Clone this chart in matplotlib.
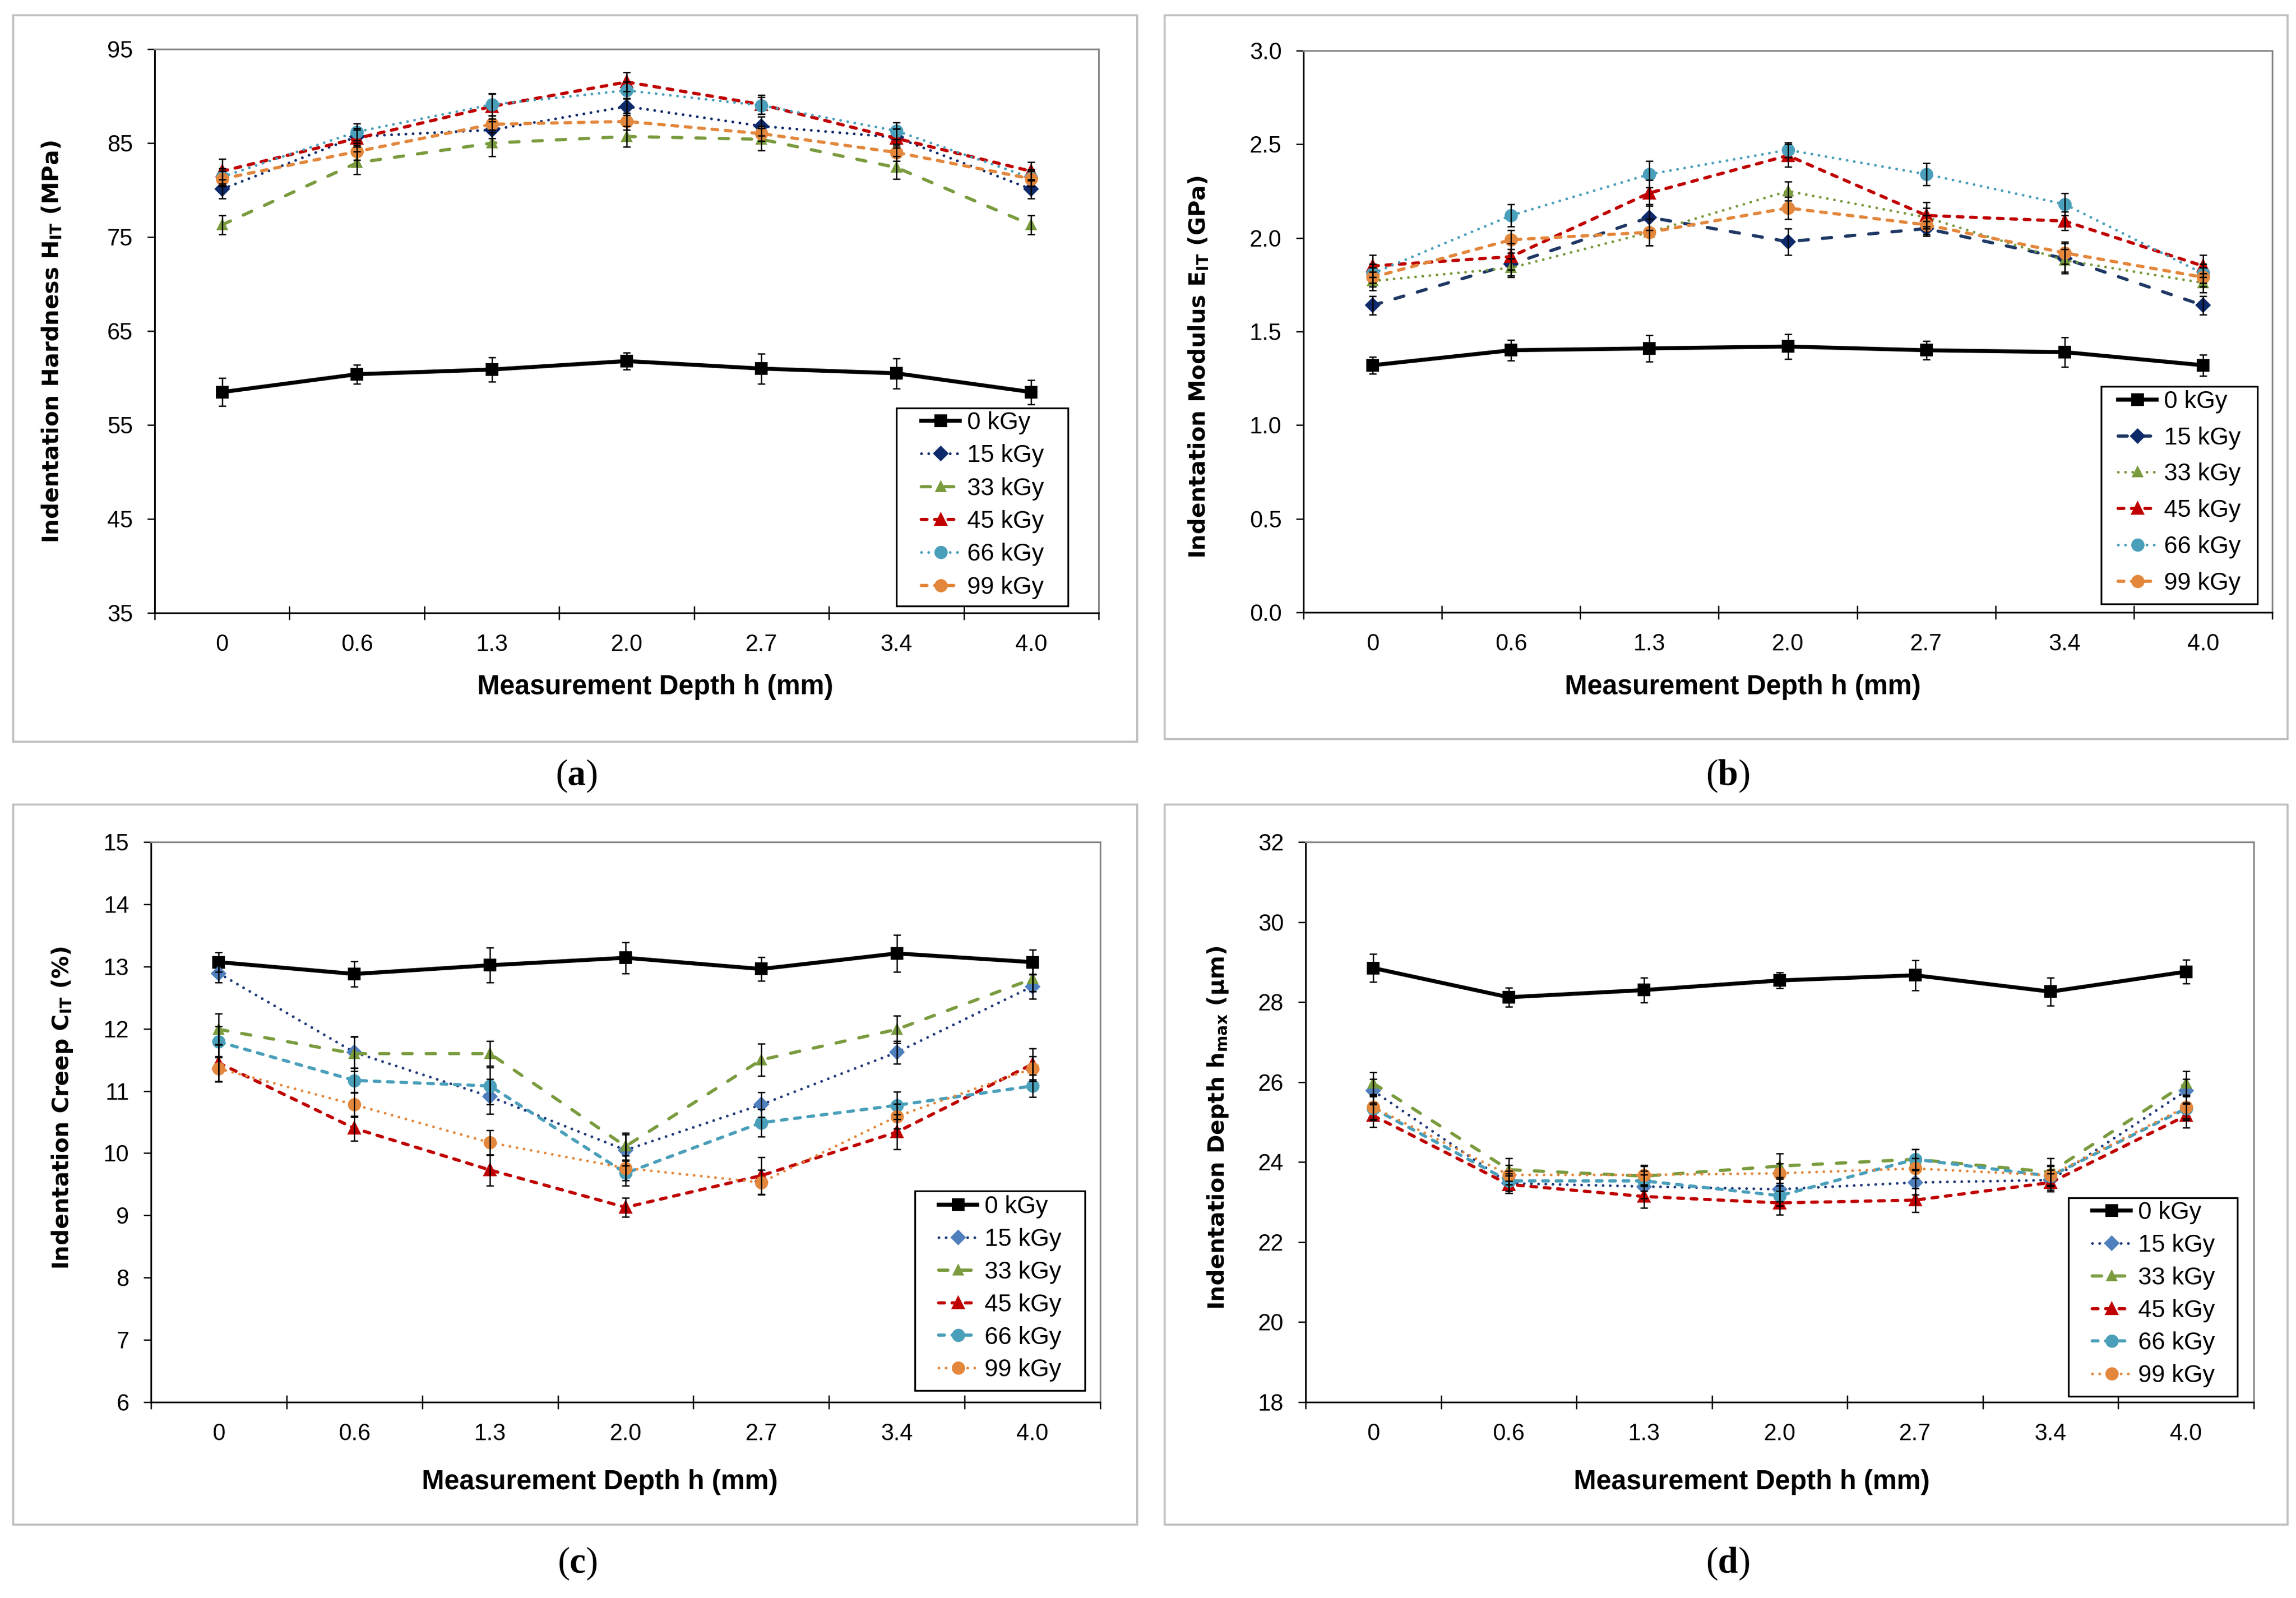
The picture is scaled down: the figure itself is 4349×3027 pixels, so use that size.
import numpy as np
import matplotlib
matplotlib.use('Agg')
import matplotlib.pyplot as plt
from matplotlib.patches import Rectangle

plt.rcParams['font.family'] = ['Liberation Sans', 'DejaVu Sans']
plt.rcParams['mathtext.fontset'] = 'custom'
plt.rcParams['mathtext.rm'] = 'Liberation Serif'
plt.rcParams['mathtext.bf'] = 'Liberation Serif:bold'
plt.rcParams['mathtext.sf'] = 'DejaVu Sans:bold'

# ---- data ----
depths = ['0', '0.6', '1.3', '2.0', '2.7', '3.4', '4.0']
doses = ['0 kGy', '15 kGy', '33 kGy', '45 kGy', '66 kGy', '99 kGy']

# (a) indentation hardness H_IT (MPa)
hardness = [
    [58.5, 60.4, 60.9, 61.8, 61.0, 60.5, 58.5],
    [80.1, 85.7, 86.4, 88.9, 86.8, 85.6, 80.1],
    [76.3, 82.9, 85.0, 85.7, 85.4, 82.4, 76.3],
    [82.0, 85.5, 88.9, 91.5, 89.1, 85.5, 82.0],
    [81.4, 86.2, 89.1, 90.6, 89.0, 86.3, 81.3],
    [81.2, 84.1, 87.0, 87.3, 86.0, 84.0, 81.2],
]
hardness_err = [
    [1.5, 1.0, 1.3, 0.9, 1.6, 1.6, 1.3],
    [1.0, 0.9, 0.9, 0.9, 1.0, 0.9, 1.0],
    [1.0, 1.2, 1.4, 1.1, 1.2, 1.2, 1.0],
    [1.3, 0.9, 1.3, 1.0, 1.0, 1.0, 1.0],
    [0.9, 0.9, 1.2, 0.9, 0.9, 0.9, 0.9],
    [0.8, 0.9, 0.9, 0.9, 0.8, 0.9, 0.8],
]

# (b) indentation modulus E_IT (GPa)
modulus = [
    [1.32, 1.40, 1.41, 1.42, 1.40, 1.39, 1.32],
    [1.64, 1.86, 2.11, 1.98, 2.05, 1.89, 1.64],
    [1.77, 1.84, 2.03, 2.25, 2.11, 1.88, 1.76],
    [1.85, 1.90, 2.24, 2.44, 2.12, 2.09, 1.85],
    [1.81, 2.12, 2.34, 2.47, 2.34, 2.18, 1.81],
    [1.79, 1.99, 2.03, 2.16, 2.07, 1.92, 1.79],
]
modulus_err = [
    [0.045, 0.054, 0.07, 0.066, 0.05, 0.08, 0.057],
    [0.05, 0.06, 0.07, 0.07, 0.04, 0.08, 0.05],
    [0.05, 0.05, 0.07, 0.05, 0.05, 0.06, 0.05],
    [0.06, 0.07, 0.07, 0.06, 0.07, 0.05, 0.06],
    [0.05, 0.06, 0.07, 0.04, 0.06, 0.06, 0.05],
    [0.05, 0.05, 0.07, 0.06, 0.05, 0.06, 0.05],
]

# (c) indentation creep C_IT (%)
creep = [
    [13.07, 12.88, 13.02, 13.14, 12.96, 13.21, 13.07],
    [12.89, 11.62, 10.91, 10.05, 10.78, 11.62, 12.68],
    [11.99, 11.60, 11.60, 10.11, 11.50, 11.99, 12.80],
    [11.45, 10.40, 9.73, 9.13, 9.64, 10.34, 11.43],
    [11.79, 11.17, 11.08, 9.68, 10.49, 10.77, 11.08],
    [11.36, 10.78, 10.17, 9.76, 9.53, 10.59, 11.36],
]
creep_err = [
    [0.16, 0.20, 0.28, 0.25, 0.19, 0.30, 0.20],
    [0.15, 0.25, 0.28, 0.25, 0.20, 0.18, 0.20],
    [0.25, 0.28, 0.20, 0.22, 0.26, 0.22, 0.20],
    [0.30, 0.20, 0.25, 0.15, 0.30, 0.28, 0.25],
    [0.25, 0.20, 0.30, 0.20, 0.22, 0.22, 0.18],
    [0.20, 0.20, 0.20, 0.20, 0.20, 0.20, 0.20],
]

# (d) indentation depth h_max (um)
depth_max = [
    [28.85, 28.12, 28.30, 28.54, 28.67, 28.26, 28.76],
    [25.78, 23.47, 23.39, 23.32, 23.49, 23.55, 25.78],
    [25.97, 23.81, 23.65, 23.90, 24.07, 23.75, 25.97],
    [25.16, 23.44, 23.14, 22.98, 23.05, 23.49, 25.16],
    [25.34, 23.53, 23.53, 23.16, 24.07, 23.65, 25.34],
    [25.37, 23.68, 23.68, 23.72, 23.84, 23.67, 25.38],
]
depth_max_err = [
    [0.35, 0.24, 0.31, 0.20, 0.38, 0.35, 0.30],
    [0.30, 0.25, 0.30, 0.30, 0.30, 0.25, 0.30],
    [0.28, 0.28, 0.25, 0.32, 0.25, 0.35, 0.30],
    [0.28, 0.22, 0.28, 0.30, 0.30, 0.22, 0.30],
    [0.30, 0.25, 0.25, 0.25, 0.25, 0.25, 0.30],
    [0.30, 0.25, 0.25, 0.25, 0.25, 0.25, 0.30],
]

ylabels = [r'Indentation Hardness H$_{\mathsf{IT}}$ (MPa)',
           r'Indentation Modulus E$_{\mathsf{IT}}$ (GPa)',
           r'Indentation Creep C$_{\mathsf{IT}}$ (%)',
           r'Indentation Depth h$_{\mathsf{max}}$ (µm)']
yticks = [np.arange(35, 96, 10), np.arange(0, 3.01, 0.5),
          np.arange(6, 16, 1), np.arange(18, 33, 2)]
yfmt = ['{:.0f}', '{:.1f}', '{:.0f}', '{:.0f}']
letters = ['a', 'b', 'c', 'd']

# ---- styles ----
DOT = (0, (0.01, 2.6))
DASH = (0, (1.8, 2.4))
LDASH = (0, (2.9, 4.4))
styles = [
    ['-', DOT, LDASH, DASH, DOT, DASH],
    ['-', LDASH, DOT, DASH, DOT, DASH],
    ['-', DOT, LDASH, DASH, DASH, DOT],
    ['-', DOT, LDASH, DASH, DASH, DOT],
]
line_cols = ['black', '#0E2A6B', '#7A9B3E', '#C00000', '#4A9FBA', '#E3873C']
mark_cols = ['black', '#0E2A6B', '#7A9B3E', '#C00000', '#4A9FBA', '#E3873C']
light_blue = '#4F7FBD'
markers = ['s', 'D', '^', '^', 'o', 'o']
msizes = [5.0, 4.0, 3.8, 5.0, 5.0, 5.0]

W, H = 4349, 3027
def fx(px):
    return px / W
def fy(py):
    return 1 - py / H

fig = plt.figure(figsize=(W / 300, H / 300), dpi=300)

frames_px = [(25, 29, 2154, 1405), (2206, 29, 4333, 1400),
             (25, 1524, 2154, 2888), (2206, 1524, 4333, 2888)]
axes_px = [(293, 93, 2081, 1161), (2469, 96, 4304, 1160),
           (286, 1595, 2084, 2656), (2473, 1595, 4269, 2656)]
ylab_px = [(98, 647), (2270, 695), (118, 2099), (2307, 2136)]
xlab_px = [(1241, 1302), (3301, 1302), (1136, 2807), (3318, 2807)]
letter_px = [(1092, 1470), (3273, 1470), (1094, 2962), (3273, 2962)]
# legend: frame box, handle start x, first row centre y, row spacing
legend_px = [((1698, 773, 2023, 1148), 1745, 803, 0.40),
             ((3980, 732, 4276, 1144), 4012, 763, 0.54),
             ((1733, 2256, 2055, 2634), 1778, 2288, 0.39),
             ((3918, 2269, 4238, 2645), 3963, 2299, 0.39)]

datasets = [(hardness, hardness_err), (modulus, modulus_err),
            (creep, creep_err), (depth_max, depth_max_err)]

x = np.arange(len(depths))
for k in range(4):
    fl, ft, fr, fb = frames_px[k]
    fig.add_artist(Rectangle((fx(fl), fy(fb)), (fr - fl) / W, (fb - ft) / H,
                             transform=fig.transFigure, fill=False,
                             ec='#BFBFBF', lw=0.9))
    l, t, r, b = axes_px[k]
    ax = fig.add_axes([fx(l), fy(b), (r - l) / W, (b - t) / H])
    vals, errs = datasets[k]
    for i in range(len(doses)):
        lc = line_cols[i]
        mc = mark_cols[i]
        if i == 1 and k >= 2:
            lc = '#1F3A7A'
            mc = light_blue
        if i == 1 and k == 1:
            lc = '#1F3864'
        ls = styles[k][i]
        if i == 0:
            lw = 1.8
        elif ls is DOT:
            lw = 1.25
        else:
            lw = 1.45
        ax.errorbar(x, vals[i], yerr=errs[i], fmt='none', ecolor='black',
                    elinewidth=0.6, capsize=1.6, capthick=0.6, zorder=4)
        ax.plot(x, vals[i], linestyle=ls, color=lc, lw=lw,
                marker=markers[i], ms=msizes[i], mfc=mc, mec=mc,
                dash_capstyle='butt' if ls == '-' else 'round',
                label=doses[i], zorder=3)
    ax.set_xlim(-0.5, len(depths) - 0.5)
    ax.set_ylim(yticks[k][0], yticks[k][-1])
    ax.set_xticks(np.arange(-0.5, len(depths), 1.0))
    ax.set_xticklabels([])
    ax.set_xticks(x, minor=True)
    ax.set_xticklabels(depths, minor=True, fontsize=10.5)
    ax.tick_params(axis='x', which='major', direction='inout', length=6.2,
                   width=0.6, color='black')
    ax.tick_params(axis='x', which='minor', length=0, pad=9.5)
    ax.set_yticks(yticks[k])
    ax.set_yticklabels([yfmt[k].format(v) for v in yticks[k]], fontsize=10.5)
    ax.tick_params(axis='y', direction='out', length=3.4, width=0.6, pad=6.5)
    for s in ['left', 'bottom']:
        ax.spines[s].set_color('black')
        ax.spines[s].set_linewidth(0.75)
    for s in ['top', 'right']:
        ax.spines[s].set_color('#868686')
        ax.spines[s].set_linewidth(0.75)
    ax.spines['bottom'].set_zorder(5)

    fig.text(fx(ylab_px[k][0]), fy(ylab_px[k][1]), ylabels[k], rotation=90,
             ha='center', va='center', fontsize=10.3, fontweight='bold',
             family='DejaVu Sans')
    fig.text(fx(xlab_px[k][0]), fy(xlab_px[k][1]), 'Measurement Depth h (mm)',
             ha='center', va='center', fontsize=12.3, fontweight='bold')
    fig.text(fx(letter_px[k][0]), fy(letter_px[k][1]),
             '(' + r'$\mathbf{' + letters[k] + '}$' + ')',
             ha='center', va='center', fontsize=16.5, family='Liberation Serif')

    (bl, bt, br, bb), hx, ry, lsp = legend_px[k]
    fig.add_artist(Rectangle((fx(bl), fy(bb)), (br - bl) / W, (bb - bt) / H,
                             transform=fig.transFigure, fill=True, fc='white',
                             ec='black', lw=0.8, zorder=6))
    leg = ax.legend(loc='upper left', bbox_to_anchor=(fx(hx), fy(ry - 24)),
                    bbox_transform=fig.transFigure, frameon=False,
                    borderpad=0, borderaxespad=0, fontsize=11,
                    handlelength=1.6, handletextpad=0.3, labelspacing=lsp,
                    numpoints=1)
    leg.set_zorder(7)
    leg.remove()
    fig.add_artist(leg)

fig.savefig('out.png', dpi=300)
